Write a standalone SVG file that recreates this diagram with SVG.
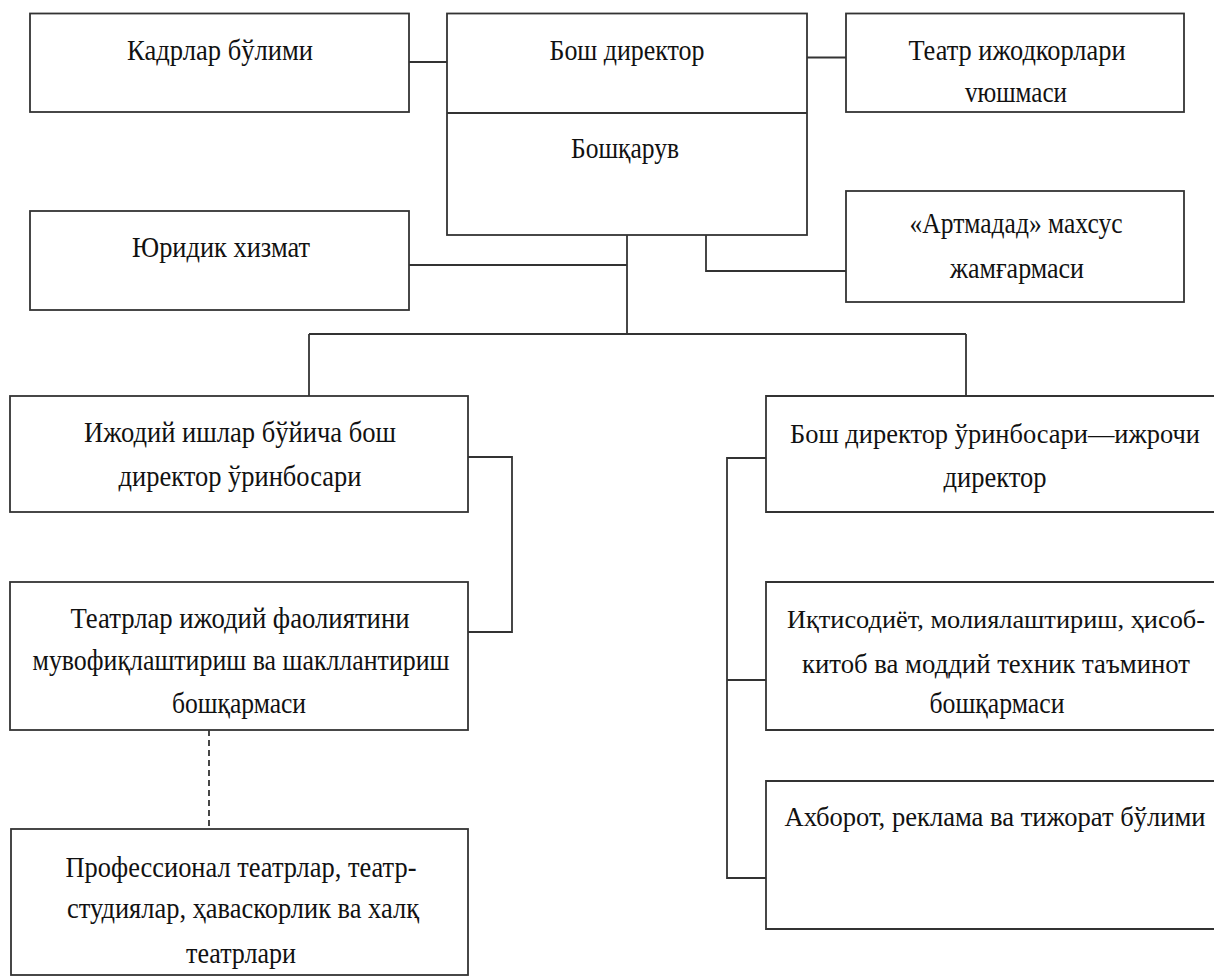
<svg xmlns="http://www.w3.org/2000/svg" width="1214" height="976" viewBox="0 0 1214 976">
<style>
.box{fill:#fff;stroke:#333;stroke-width:1.8}
.open{fill:#fff;stroke:#333;stroke-width:1.8}
.ln{fill:none;stroke:#333;stroke-width:1.8}
.dash{fill:none;stroke:#333;stroke-width:1.8;stroke-dasharray:6 4}
text{font-family:"Liberation Serif","DejaVu Serif",serif;font-size:30px;fill:#111;text-anchor:middle}
text.sm{font-size:27px}
text.xs{font-size:25px}
</style>
<rect width="1214" height="976" fill="#fff"/>
<g id="connectors">
<path class="ln" d="M409 62H447"/>
<path class="ln" d="M807 57.5H846"/>
<path class="ln" d="M627 235V334"/>
<path class="ln" d="M409 265H627"/>
<path class="ln" d="M706 235V271H846"/>
<path class="ln" d="M309 334H966"/>
<path class="ln" d="M309 334V396"/>
<path class="ln" d="M966 334V396"/>
<path class="ln" d="M468 457H512V632H468"/>
<path class="dash" d="M209 730V829"/>
<path class="ln" d="M766 458H727V878H766"/>
<path class="ln" d="M727 680H766"/>
</g>
<g id="kadrlar">
<rect class="box" x="30" y="13.5" width="379" height="98.5"/>
<text x="220" y="60" textLength="186" lengthAdjust="spacingAndGlyphs">Кадрлар бўлими</text>
</g>
<g id="bosh-direktor">
<rect class="box" x="447" y="13.5" width="360" height="221.5"/>
<path class="ln" d="M447 113H807"/>
<text x="627" y="60" textLength="155" lengthAdjust="spacingAndGlyphs">Бош директор</text>
<text x="625" y="158" textLength="108" lengthAdjust="spacingAndGlyphs">Бошқарув</text>
</g>
<g id="teatr-ijodkorlari">
<rect class="box" x="846" y="13.5" width="338" height="98.5"/>
<text x="1017" y="60" textLength="217" lengthAdjust="spacingAndGlyphs">Театр ижодкорлари</text>
<text x="1016" y="102" textLength="102" lengthAdjust="spacingAndGlyphs">vюшмаси</text>
</g>
<g id="yuridik">
<rect class="box" x="30" y="211" width="379" height="99"/>
<text x="221" y="257" textLength="178" lengthAdjust="spacingAndGlyphs">Юридик хизмат</text>
</g>
<g id="artmadad">
<rect class="box" x="846" y="191" width="338" height="111"/>
<text x="1016" y="233" textLength="213" lengthAdjust="spacingAndGlyphs">«Артмадад» махсус</text>
<text x="1017" y="278" textLength="134" lengthAdjust="spacingAndGlyphs">жамғармаси</text>
</g>
<g id="ijodiy-orinbosar">
<rect class="box" x="10" y="396" width="458" height="116"/>
<text x="240" y="442" textLength="312" lengthAdjust="spacingAndGlyphs">Ижодий ишлар бўйича бош</text>
<text x="240" y="486" textLength="243" lengthAdjust="spacingAndGlyphs">директор ўринбосари</text>
</g>
<g id="teatrlar-boshqarmasi">
<rect class="box" x="10" y="582" width="458" height="148"/>
<text x="240" y="628" textLength="339" lengthAdjust="spacingAndGlyphs">Театрлар ижодий фаолиятини</text>
<text x="241" y="670" textLength="417" lengthAdjust="spacingAndGlyphs">мувофиқлаштириш ва шакллантириш</text>
<text x="239" y="713" textLength="134" lengthAdjust="spacingAndGlyphs">бошқармаси</text>
</g>
<g id="professional">
<rect class="box" x="11" y="829" width="457" height="146"/>
<text x="241" y="877" textLength="351" lengthAdjust="spacingAndGlyphs">Профессионал театрлар, театр-</text>
<text x="243" y="918" textLength="352" lengthAdjust="spacingAndGlyphs">студиялар, ҳаваскорлик ва халқ</text>
<text x="241" y="963" textLength="110" lengthAdjust="spacingAndGlyphs">театрлари</text>
</g>
<g id="ijrochi-direktor">
<path class="open" d="M1214 396H766V512H1214"/>
<text class="sm" x="995" y="443" textLength="410" lengthAdjust="spacingAndGlyphs">Бош директор ўринбосари—ижрочи</text>
<text x="995" y="487" textLength="103" lengthAdjust="spacingAndGlyphs">директор</text>
</g>
<g id="iqtisodiyot">
<path class="open" d="M1214 582H766V730H1214"/>
<text class="xs" x="996" y="628" textLength="418" lengthAdjust="spacingAndGlyphs">Иқтисодиёт, молиялаштириш, ҳисоб-</text>
<text class="sm" x="996" y="673" textLength="388" lengthAdjust="spacingAndGlyphs">китоб ва моддий техник таъминот</text>
<text x="997" y="713" textLength="135" lengthAdjust="spacingAndGlyphs">бошқармаси</text>
</g>
<g id="axborot">
<path class="open" d="M1214 781H766V929H1214"/>
<text class="sm" x="995" y="826" textLength="421" lengthAdjust="spacingAndGlyphs">Ахборот, реклама ва тижорат бўлими</text>
</g>
</svg>
